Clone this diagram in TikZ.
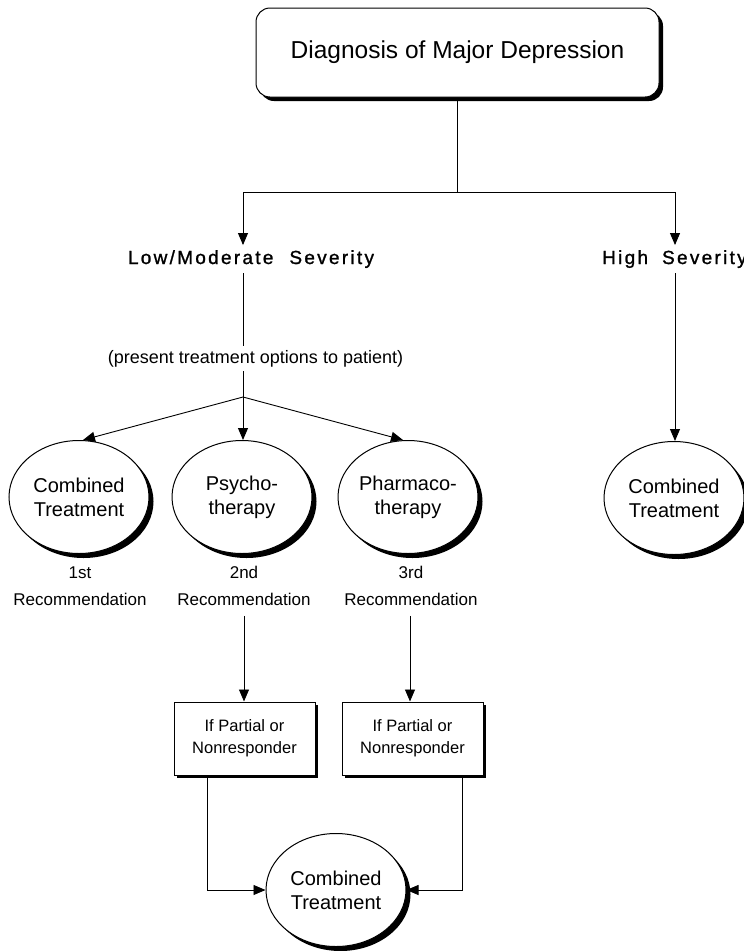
\documentclass[tikz,border=0pt]{standalone}
\usepackage{fontspec}
\setmainfont{Liberation Sans}
\newfontfamily\sevfont[LetterSpace=12,FakeBold=1.2]{Liberation Sans}
\usetikzlibrary{shapes.geometric,arrows.meta,shadows,calc}
\begin{document}
\begin{tikzpicture}[x=1pt,y=-1pt,
  ln/.style={draw, line width=0.9pt},
  arr/.style={draw, line width=0.9pt, -{Triangle[length=12pt,width=10pt]}},
  blackshadow/.style={drop shadow={shadow xshift=#1, shadow yshift=-#1, fill=black, opacity=1}},
  oval/.style={ellipse, draw, line width=1pt, fill=white, minimum width=140pt, minimum height=113pt,
    inner sep=0pt, align=center, font=\fontsize{20}{24}\selectfont, blackshadow=4.5pt},
  pbox/.style={rectangle, draw, line width=1pt, fill=white, minimum width=141pt, minimum height=73pt,
    inner sep=0pt, align=center, font=\fontsize{16.5}{22}\selectfont, blackshadow=3pt},
  sev/.style={font=\sevfont\fontsize{19}{22}\selectfont, inner xsep=2pt, inner ysep=5pt},
  rec/.style={font=\fontsize{17}{27}\selectfont, align=center, inner xsep=2pt, inner ysep=10pt}
]
\useasboundingbox (0,0) rectangle (744,951);
\fill[white] (0,0) rectangle (744,951);

% title
\node[draw, line width=1pt, rounded corners=14pt, minimum width=403pt, minimum height=89pt,
  fill=white, blackshadow=4pt, font=\fontsize{24.5}{29}\selectfont] (diag) at (457.5,52.5)
  {Diagnosis of Major Depression};

% severity labels
\node[sev, anchor=base] (low) at (251,264) {Low/Moderate\hspace{16pt}Severity};
\node[sev, anchor=base west] (high) at (600,264) {High\hspace{14pt}Severity};
\node[font=\fontsize{18}{22}\selectfont, inner xsep=2pt, inner ysep=4pt, anchor=base] (pres) at (255.5,363.5)
  {(present treatment options to patient)};

% ovals
\node[oval] (ct1) at (79,497) {Combined\\Treatment};
\node[oval] (psy) at (242,497) {Psycho-\\therapy};
\node[oval] (ph) at (408,497) {Pharmaco-\\therapy};
\node[oval] (ct4) at (674,498) {Combined\\Treatment};
\node[oval] (ct3) at (336,890) {Combined\\Treatment};

% recommendation labels
\node[rec] (r1) at (80,586) {1st\\Recommendation};
\node[rec] (r2) at (244,586) {2nd\\Recommendation};
\node[rec] (r3) at (411,586) {3rd\\Recommendation};

% boxes
\node[pbox] (b1) at (244.5,738.5) {If Partial or\\Nonresponder};
\node[pbox] (b2) at (412.5,738.5) {If Partial or\\Nonresponder};

% connectors
\coordinate (jL) at (243,192);
\coordinate (jR) at (675,192);
\coordinate (br) at (243,397);
\draw[ln] (diag.south) -- (diag.south |- jL);
\draw[ln] (jL) -- (jR);
\draw[arr] (jL) -- (jL |- low.north);
\draw[arr] (jR) -- (jR |- high.north);
\draw[ln] (jL |- low.south) -- (jL |- pres.north);
\draw[ln] (jL |- pres.south) -- (br);
\draw[arr] (br) -- ([xshift=4pt]ct1.north);
\draw[arr] (br) -- (br |- psy.north);
\draw[arr] (br) -- ([xshift=-5pt]ph.north);
\draw[arr] (jR |- high.south) -- (jR |- ct4.north);
\draw[arr] (r2.south) -- (r2.south |- b1.north);
\draw[arr] ([xshift=-1pt]r3.south) -- ([xshift=-1pt]r3.south |- b2.north);
\draw[arr] ([xshift=-37.5pt]b1.south) |- (ct3.west);
\draw[arr] ([xshift=49.5pt]b2.south) |- (ct3.east);
\end{tikzpicture}
\end{document}
